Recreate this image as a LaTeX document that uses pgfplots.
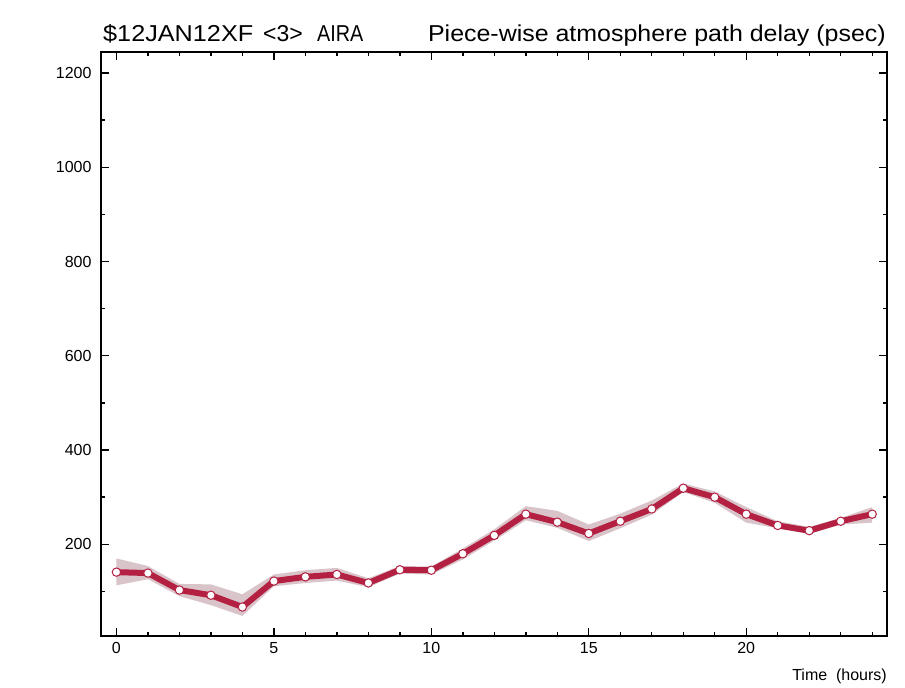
\documentclass[border=0pt]{standalone}
\usepackage{pgfplots}
\pgfplotsset{compat=1.18}
\usepackage{pgfplotstable}
\usepackage{graphicx}
\usepackage{fontspec}
\setmainfont{Liberation Sans}
\definecolor{linered}{RGB}{180,32,66}
\definecolor{bandgrey}{RGB}{216,196,201}
\pgfplotstableread{
t y
0 141
1 139
2 103
3 92
4 67
5 122
6 131
7 136
8 118
9 146
10 145
11 180
12 219
13 264
14 247
15 223
16 249
17 275
18 319
19 300
20 264
21 240
22 229
23 249
24 264
}\delaytable
% band outline: upper bound left to right, then lower bound right to left
\pgfplotstableread{
t b
0 170
1 154
2 116
3 115
4 94
5 136
6 145
7 150
8 128
9 154
10 153
11 191
12 232
13 281
14 271
15 242
16 265
17 293
18 329
19 312
20 279
21 249
22 237
23 256
24 279
24 246
23 242
22 222
21 234
20 246
19 288
18 311
17 263
16 234
15 207
14 235
13 251
12 208
11 168
10 136
9 138
8 109
7 123
6 118
5 111
4 48
3 71
2 90
1 126
0 113
}\bandtable
\begin{document}
\begin{tikzpicture}
\begin{axis}[
  at={(0,0)}, anchor=south west,
  scale only axis, width=786bp, height=584bp,
  xmin=-0.49, xmax=24.47, ymin=5.5, ymax=1244.5,
  xtick={0,5,10,15,20}, minor xtick={0,1,...,24},
  ytick={200,400,...,1200}, minor ytick={100,300,...,1100},
  tick align=inside,
  major tick length=8bp, minor tick length=4bp,
  axis line style={line width=1.8bp},
  every tick/.style={black, line width=1.4bp},
  tick label style={font=\fontsize{16bp}{18bp}\selectfont},
  /pgf/number format/assume math mode=true,
  /pgf/number format/1000 sep={},
  xticklabel style={yshift=-3bp},
  yticklabel style={xshift=-6bp},
  clip=false,
]
\addplot[fill=bandgrey, draw=none] table[x=t, y=b] {\bandtable} -- cycle;
\addplot[linered, line width=6bp, mark=*, mark size=4.2bp,
  mark options={fill=white, draw=linered, line width=1bp}] table[x=t, y=y] {\delaytable};
\begin{scope}[every node/.style={inner sep=0pt, font=\fontsize{23bp}{26bp}\selectfont}]
\node[anchor=base west] at (rel axis cs:0,1) [xshift=2bp, yshift=10bp] {\scalebox{1.097}[1]{\$12JAN12XF}};
\node[anchor=base west] at (rel axis cs:0,1) [xshift=162bp, yshift=10bp] {<3>};
\node[anchor=base west] at (rel axis cs:0,1) [xshift=216bp, yshift=10bp] {\scalebox{0.86}[1]{AIRA}};
\node[anchor=base east] at (rel axis cs:1,1) [xshift=-1bp, yshift=10bp] {\scalebox{1.085}[1]{Piece-wise atmosphere path delay (psec)}};
\end{scope}
\node[anchor=base east, inner sep=0pt, font=\fontsize{16bp}{18bp}\selectfont]
  at (rel axis cs:1,0) [yshift=-44bp] {Time\ \ (hours)};
\end{axis}
\path[use as bounding box] (-101bp,-52bp) rectangle (804bp,636bp);
\end{tikzpicture}
\end{document}
